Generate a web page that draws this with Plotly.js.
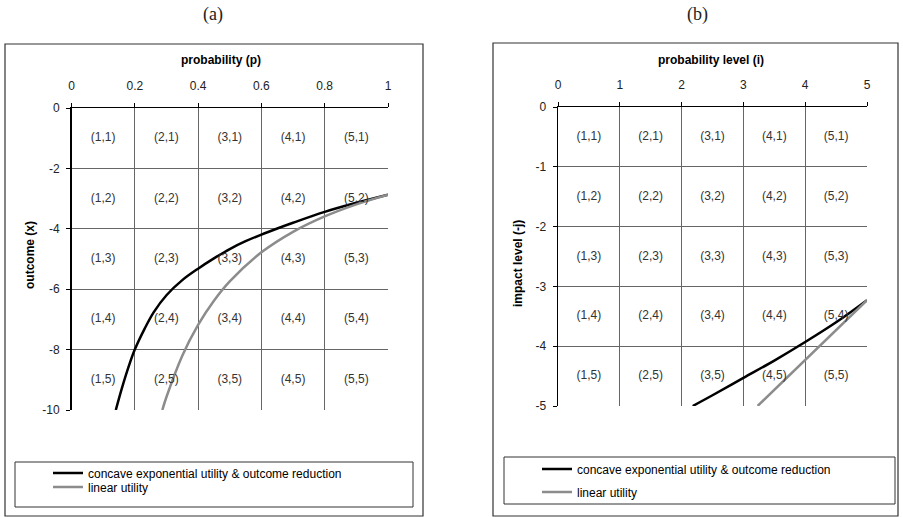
<!DOCTYPE html>
<html>
<head>
<meta charset="utf-8">
<script src="https://cdn.plot.ly/plotly-3.0.1.min.js"></script>
<style>
  html, body { margin: 0; padding: 0; background: #fff; }
  #chart { width: 903px; height: 517px; }
</style>
</head>
<body>
<div id="chart"></div>
<script>
// ---------- data ----------
const seriesNames = ["concave exponential utility & outcome reduction", "linear utility"];

// panel (a): probability p vs outcome x
const pTickVals = [0, 0.2, 0.4, 0.6, 0.8, 1];
const pTickText = ["0", "0.2", "0.4", "0.6", "0.8", "1"];
const xTickVals = [0, -2, -4, -6, -8, -10];
const xTickText = ["0", "-2", "-4", "-6", "-8", "-10"];
const aConcaveP = [0.14, 0.16, 0.18, 0.2, 0.23, 0.26, 0.3, 0.35, 0.4, 0.45, 0.5, 0.55, 0.6, 0.65, 0.7, 0.8, 0.9, 1.0];
const aConcaveX = [-10, -9.25, -8.58, -8.0, -7.33, -6.76, -6.2, -5.7, -5.32, -4.98, -4.67, -4.41, -4.19, -3.99, -3.8, -3.44, -3.14, -2.87];
const aLinearP = [0.287, 0.3, 0.35, 0.4, 0.45, 0.5, 0.6, 0.7, 0.8, 0.9, 1.0];
const aLinearX = [-10, -9.57, -8.2, -7.18, -6.38, -5.74, -4.78, -4.1, -3.59, -3.19, -2.87];

// panel (b): probability level i vs impact level -j
const iTickVals = [0, 1, 2, 3, 4, 5];
const iTickText = ["0", "1", "2", "3", "4", "5"];
const jTickVals = [0, -1, -2, -3, -4, -5];
const jTickText = ["0", "-1", "-2", "-3", "-4", "-5"];
const bConcaveI = [2.18, 2.5, 3.0, 3.5, 4.0, 4.5, 5.0];
const bConcaveJ = [-5, -4.82, -4.53, -4.24, -3.93, -3.6, -3.23];
const bLinearI = [3.23, 5.0];
const bLinearJ = [-5, -3.23];

// cell labels (i,j)
const levels = [1, 2, 3, 4, 5];

// ---------- build ----------
const FONT = "Liberation Sans, Arial, sans-serif";
const W = 903, H = 517;
const px = v => v / W;
const py = v => 1 - v / H;

function cells(xStep, yStep) {
  const xs = [], ys = [], ts = [];
  levels.forEach(j => levels.forEach(i => {
    xs.push((i - 0.5) * xStep);
    ys.push(-(j - 0.5) * yStep);
    ts.push("(" + i + "," + j + ")");
  }));
  return {xs, ys, ts};
}
const ca = cells(0.2, 2);
const cb = cells(1, 1);

const traces = [
  {x: aConcaveP, y: aConcaveX, xaxis: "x", yaxis: "y", mode: "lines", name: seriesNames[0],
   line: {color: "#000", width: 2.5, shape: "spline"}, legend: "legend"},
  {x: aLinearP, y: aLinearX, xaxis: "x", yaxis: "y", mode: "lines", name: seriesNames[1],
   line: {color: "#8c8c8c", width: 2.5, shape: "spline"}, legend: "legend3"},
  {x: ca.xs, y: ca.ys, text: ca.ts, xaxis: "x", yaxis: "y", mode: "text", showlegend: false,
   textfont: {family: FONT, size: 12, color: "#333"}, hoverinfo: "skip"},
  {x: bConcaveI, y: bConcaveJ, xaxis: "x2", yaxis: "y2", mode: "lines", name: seriesNames[0],
   line: {color: "#000", width: 2.5, shape: "spline"}, legend: "legend2"},
  {x: bLinearI, y: bLinearJ, xaxis: "x2", yaxis: "y2", mode: "lines", name: seriesNames[1],
   line: {color: "#8c8c8c", width: 2.5}, legend: "legend4"},
  {x: cb.xs, y: cb.ys, text: cb.ts, xaxis: "x2", yaxis: "y2", mode: "text", showlegend: false,
   textfont: {family: FONT, size: 12, color: "#333"}, hoverinfo: "skip"}
];

function xAxis(domain, range, vals, text, anchor) {
  return {domain, range, anchor, side: "top", tickvals: vals, ticktext: text,
    ticks: "outside", ticklen: 4, tickcolor: "#000", ticklabelstandoff: 8,
    showline: true, linecolor: "#000", linewidth: 1.5,
    showgrid: true, gridcolor: "#666", gridwidth: 1, zeroline: false,
    tickfont: {family: FONT, size: 12, color: "#222"}, fixedrange: true};
}
function yAxis(domain, range, vals, text, anchor) {
  return {domain, range, anchor, tickvals: vals, ticktext: text,
    ticks: "outside", ticklen: 4, tickcolor: "#000", ticklabelstandoff: 4,
    showline: true, linecolor: "#000", linewidth: 1.5,
    showgrid: true, gridcolor: "#666", gridwidth: 1, zeroline: false,
    tickfont: {family: FONT, size: 12, color: "#222"}, fixedrange: true};
}
function legendAt(x, y) {
  return {x: px(x), y: py(y), xanchor: "left", yanchor: "middle", bgcolor: "rgba(0,0,0,0)",
    borderwidth: 0, font: {family: FONT, size: 12, color: "#000"}, orientation: "v"};
}
function label(text, x, y, opts) {
  return Object.assign({text, xref: "paper", yref: "paper", x: px(x), y: py(y),
    xanchor: "center", yanchor: "middle", showarrow: false,
    font: {family: FONT, size: 12, color: "#000"}}, opts || {});
}

const serif = {family: "Liberation Serif, DejaVu Serif, serif", size: 18, color: "#222"};

const layout = {
  width: W, height: H,
  margin: {l: 0, r: 0, t: 0, b: 0},
  paper_bgcolor: "#fff", plot_bgcolor: "#fff",
  showlegend: true,
  xaxis: xAxis([px(71.5), px(388)], [0, 1], pTickVals, pTickText, "y"),
  yaxis: yAxis([1 - 410 / H, 1 - 108 / H], [-10, 0], xTickVals, xTickText, "x"),
  xaxis2: xAxis([px(558), px(867)], [0, 5], iTickVals, iTickText, "y2"),
  yaxis2: yAxis([1 - 406 / H, 1 - 107 / H], [-5, 0], jTickVals, jTickText, "x2"),
  legend: legendAt(48, 473),
  legend3: legendAt(48, 487),
  legend2: legendAt(537, 469),
  legend4: legendAt(537, 492),
  shapes: [
    {type: "rect", xref: "paper", yref: "paper", x0: px(5), x1: px(423), y0: py(44), y1: py(516),
     line: {color: "#333", width: 1.2}, layer: "below"},
    {type: "rect", xref: "paper", yref: "paper", x0: px(493), x1: px(898), y0: py(43), y1: py(516),
     line: {color: "#333", width: 1.2}, layer: "below"},
    {type: "rect", xref: "paper", yref: "paper", x0: px(15), x1: px(413), y0: py(462), y1: py(507),
     line: {color: "#333", width: 1}, layer: "below"},
    {type: "rect", xref: "paper", yref: "paper", x0: px(504), x1: px(895), y0: py(457), y1: py(504),
     line: {color: "#333", width: 1}, layer: "below"}
  ],
  annotations: [
    label("(a)", 213, 15, {font: serif}),
    label("(b)", 697, 15, {font: serif}),
    label("<b>probability (p)</b>", 221, 60),
    label("<b>probability level (i)</b>", 711, 60),
    label("<b>outcome (x)</b>", 30, 255, {textangle: -90}),
    label("<b>impact level (-j)</b>", 518, 264, {textangle: -90})
  ]
};

Plotly.newPlot("chart", traces, layout, {displayModeBar: false, staticPlot: true});
</script>
</body>
</html>
